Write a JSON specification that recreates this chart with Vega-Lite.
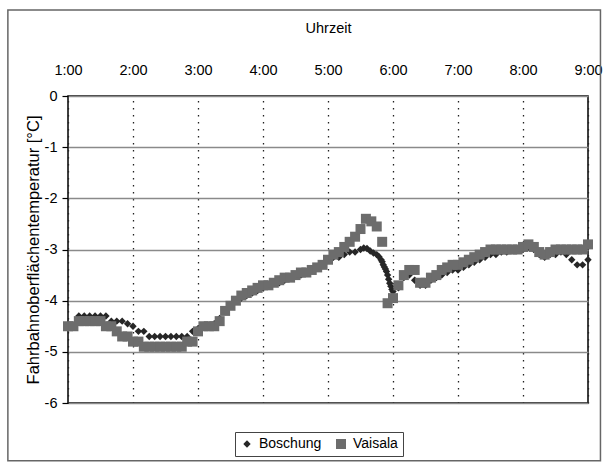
{
  "$schema": "https://vega.github.io/schema/vega-lite/v6.json",
  "width": 520,
  "height": 307,
  "padding": {"left": 7, "top": 9, "right": 0, "bottom": 0},
  "background": "#ffffff",
  "config": {
    "font": "Liberation Sans",
    "view": {"stroke": "#000000", "strokeWidth": 1.5},
    "axis": {"labelColor": "#000000", "titleColor": "#000000", "titleFontWeight": "normal", "labelFont": "Liberation Sans", "titleFont": "Liberation Sans"}
  },
  "layer": [
    {
      "data": {"values": [{}]},
      "mark": {"type": "rect", "clip": false, "fill": null, "filled": false, "stroke": "#666666", "strokeWidth": 1.5},
      "encoding": {
        "x": {"datum": 4.5, "type": "quantitative"},
        "x2": {"datum": 551.5},
        "y": {"datum": 1.68, "type": "quantitative"},
        "y2": {"datum": -7.13}
      }
    },
    {
      "data": {
        "values": [
          {"s":"Boschung","m":60,"t":-4.5},{"s":"Boschung","m":65,"t":-4.5},{"s":"Boschung","m":70,"t":-4.3},{"s":"Boschung","m":75,"t":-4.3},
          {"s":"Boschung","m":80,"t":-4.3},{"s":"Boschung","m":85,"t":-4.3},{"s":"Boschung","m":90,"t":-4.3},{"s":"Boschung","m":95,"t":-4.3},
          {"s":"Boschung","m":100,"t":-4.4},{"s":"Boschung","m":105,"t":-4.4},{"s":"Boschung","m":110,"t":-4.4},{"s":"Boschung","m":115,"t":-4.45},
          {"s":"Boschung","m":120,"t":-4.5},{"s":"Boschung","m":125,"t":-4.6},{"s":"Boschung","m":130,"t":-4.6},{"s":"Boschung","m":135,"t":-4.7},
          {"s":"Boschung","m":140,"t":-4.7},{"s":"Boschung","m":145,"t":-4.7},{"s":"Boschung","m":150,"t":-4.7},{"s":"Boschung","m":155,"t":-4.7},
          {"s":"Boschung","m":160,"t":-4.7},{"s":"Boschung","m":165,"t":-4.7},{"s":"Boschung","m":170,"t":-4.7},{"s":"Boschung","m":175,"t":-4.6},
          {"s":"Boschung","m":180,"t":-4.55},{"s":"Boschung","m":185,"t":-4.5},{"s":"Boschung","m":190,"t":-4.5},{"s":"Boschung","m":195,"t":-4.45},
          {"s":"Boschung","m":200,"t":-4.35},{"s":"Boschung","m":205,"t":-4.2},{"s":"Boschung","m":210,"t":-4.1},{"s":"Boschung","m":215,"t":-4.0},
          {"s":"Boschung","m":220,"t":-3.95},{"s":"Boschung","m":225,"t":-3.9},{"s":"Boschung","m":230,"t":-3.85},{"s":"Boschung","m":235,"t":-3.8},
          {"s":"Boschung","m":240,"t":-3.75},{"s":"Boschung","m":245,"t":-3.7},{"s":"Boschung","m":250,"t":-3.65},{"s":"Boschung","m":255,"t":-3.65},
          {"s":"Boschung","m":260,"t":-3.6},{"s":"Boschung","m":265,"t":-3.55},{"s":"Boschung","m":270,"t":-3.5},{"s":"Boschung","m":275,"t":-3.5},
          {"s":"Boschung","m":280,"t":-3.45},{"s":"Boschung","m":285,"t":-3.4},{"s":"Boschung","m":290,"t":-3.35},{"s":"Boschung","m":295,"t":-3.3},
          {"s":"Boschung","m":300,"t":-3.2},{"s":"Boschung","m":305,"t":-3.15},{"s":"Boschung","m":310,"t":-3.15},{"s":"Boschung","m":315,"t":-3.1},
          {"s":"Boschung","m":320,"t":-3.05},{"s":"Boschung","m":325,"t":-3.05},{"s":"Boschung","m":330,"t":-3.0},{"s":"Boschung","m":333,"t":-2.97},
          {"s":"Boschung","m":336,"t":-2.98},{"s":"Boschung","m":339,"t":-3.03},{"s":"Boschung","m":342,"t":-3.07},{"s":"Boschung","m":345,"t":-3.1},
          {"s":"Boschung","m":347,"t":-3.14},{"s":"Boschung","m":349,"t":-3.2},{"s":"Boschung","m":350,"t":-3.24},{"s":"Boschung","m":351,"t":-3.3},
          {"s":"Boschung","m":352,"t":-3.34},{"s":"Boschung","m":353,"t":-3.38},{"s":"Boschung","m":354,"t":-3.43},{"s":"Boschung","m":355,"t":-3.5},
          {"s":"Boschung","m":356,"t":-3.58},{"s":"Boschung","m":357,"t":-3.66},{"s":"Boschung","m":358,"t":-3.72},{"s":"Boschung","m":359,"t":-3.78},
          {"s":"Boschung","m":360,"t":-3.82},{"s":"Boschung","m":365,"t":-3.75},{"s":"Boschung","m":370,"t":-3.55},{"s":"Boschung","m":375,"t":-3.5},
          {"s":"Boschung","m":380,"t":-3.6},{"s":"Boschung","m":385,"t":-3.7},{"s":"Boschung","m":390,"t":-3.7},{"s":"Boschung","m":395,"t":-3.6},
          {"s":"Boschung","m":400,"t":-3.55},{"s":"Boschung","m":405,"t":-3.5},{"s":"Boschung","m":410,"t":-3.45},{"s":"Boschung","m":415,"t":-3.4},
          {"s":"Boschung","m":420,"t":-3.4},{"s":"Boschung","m":425,"t":-3.35},{"s":"Boschung","m":430,"t":-3.3},{"s":"Boschung","m":435,"t":-3.25},
          {"s":"Boschung","m":440,"t":-3.2},{"s":"Boschung","m":445,"t":-3.15},{"s":"Boschung","m":450,"t":-3.1},{"s":"Boschung","m":455,"t":-3.1},
          {"s":"Boschung","m":460,"t":-3.05},{"s":"Boschung","m":465,"t":-3.05},{"s":"Boschung","m":470,"t":-3.0},{"s":"Boschung","m":475,"t":-3.0},
          {"s":"Boschung","m":480,"t":-3.0},{"s":"Boschung","m":485,"t":-2.95},{"s":"Boschung","m":490,"t":-3.0},{"s":"Boschung","m":495,"t":-3.1},
          {"s":"Boschung","m":500,"t":-3.15},{"s":"Boschung","m":505,"t":-3.1},{"s":"Boschung","m":510,"t":-3.1},{"s":"Boschung","m":515,"t":-3.05},
          {"s":"Boschung","m":520,"t":-3.1},{"s":"Boschung","m":525,"t":-3.2},{"s":"Boschung","m":530,"t":-3.3},{"s":"Boschung","m":535,"t":-3.3},
          {"s":"Boschung","m":540,"t":-3.2},
          {"s":"Vaisala","m":60,"t":-4.5},{"s":"Vaisala","m":65,"t":-4.5},{"s":"Vaisala","m":70,"t":-4.4},{"s":"Vaisala","m":75,"t":-4.4},
          {"s":"Vaisala","m":80,"t":-4.4},{"s":"Vaisala","m":85,"t":-4.4},{"s":"Vaisala","m":90,"t":-4.4},{"s":"Vaisala","m":95,"t":-4.5},
          {"s":"Vaisala","m":100,"t":-4.5},{"s":"Vaisala","m":105,"t":-4.6},{"s":"Vaisala","m":110,"t":-4.7},{"s":"Vaisala","m":115,"t":-4.7},
          {"s":"Vaisala","m":120,"t":-4.8},{"s":"Vaisala","m":125,"t":-4.8},{"s":"Vaisala","m":130,"t":-4.9},{"s":"Vaisala","m":135,"t":-4.9},
          {"s":"Vaisala","m":140,"t":-4.9},{"s":"Vaisala","m":145,"t":-4.9},{"s":"Vaisala","m":150,"t":-4.9},{"s":"Vaisala","m":155,"t":-4.9},
          {"s":"Vaisala","m":160,"t":-4.9},{"s":"Vaisala","m":165,"t":-4.9},{"s":"Vaisala","m":170,"t":-4.8},{"s":"Vaisala","m":175,"t":-4.8},
          {"s":"Vaisala","m":180,"t":-4.6},{"s":"Vaisala","m":185,"t":-4.5},{"s":"Vaisala","m":190,"t":-4.5},{"s":"Vaisala","m":195,"t":-4.5},
          {"s":"Vaisala","m":200,"t":-4.4},{"s":"Vaisala","m":205,"t":-4.2},{"s":"Vaisala","m":210,"t":-4.1},{"s":"Vaisala","m":215,"t":-4.0},
          {"s":"Vaisala","m":220,"t":-3.9},{"s":"Vaisala","m":225,"t":-3.85},{"s":"Vaisala","m":230,"t":-3.8},{"s":"Vaisala","m":235,"t":-3.75},
          {"s":"Vaisala","m":240,"t":-3.7},{"s":"Vaisala","m":245,"t":-3.7},{"s":"Vaisala","m":250,"t":-3.65},{"s":"Vaisala","m":255,"t":-3.6},
          {"s":"Vaisala","m":260,"t":-3.55},{"s":"Vaisala","m":265,"t":-3.55},{"s":"Vaisala","m":270,"t":-3.5},{"s":"Vaisala","m":275,"t":-3.45},
          {"s":"Vaisala","m":280,"t":-3.45},{"s":"Vaisala","m":285,"t":-3.4},{"s":"Vaisala","m":290,"t":-3.35},{"s":"Vaisala","m":295,"t":-3.3},
          {"s":"Vaisala","m":300,"t":-3.2},{"s":"Vaisala","m":305,"t":-3.1},{"s":"Vaisala","m":310,"t":-3.05},{"s":"Vaisala","m":315,"t":-2.95},
          {"s":"Vaisala","m":320,"t":-2.85},{"s":"Vaisala","m":325,"t":-2.75},{"s":"Vaisala","m":330,"t":-2.6},{"s":"Vaisala","m":335,"t":-2.4},
          {"s":"Vaisala","m":340,"t":-2.45},{"s":"Vaisala","m":345,"t":-2.55},{"s":"Vaisala","m":350,"t":-2.85},{"s":"Vaisala","m":355,"t":-4.05},
          {"s":"Vaisala","m":360,"t":-3.95},{"s":"Vaisala","m":365,"t":-3.7},{"s":"Vaisala","m":370,"t":-3.5},{"s":"Vaisala","m":375,"t":-3.4},
          {"s":"Vaisala","m":380,"t":-3.4},{"s":"Vaisala","m":385,"t":-3.65},{"s":"Vaisala","m":390,"t":-3.65},{"s":"Vaisala","m":395,"t":-3.55},
          {"s":"Vaisala","m":400,"t":-3.5},{"s":"Vaisala","m":405,"t":-3.4},{"s":"Vaisala","m":410,"t":-3.35},{"s":"Vaisala","m":415,"t":-3.3},
          {"s":"Vaisala","m":420,"t":-3.3},{"s":"Vaisala","m":425,"t":-3.25},{"s":"Vaisala","m":430,"t":-3.2},{"s":"Vaisala","m":435,"t":-3.15},
          {"s":"Vaisala","m":440,"t":-3.1},{"s":"Vaisala","m":445,"t":-3.05},{"s":"Vaisala","m":450,"t":-3.0},{"s":"Vaisala","m":455,"t":-3.0},
          {"s":"Vaisala","m":460,"t":-3.0},{"s":"Vaisala","m":465,"t":-3.0},{"s":"Vaisala","m":470,"t":-3.0},{"s":"Vaisala","m":475,"t":-3.0},
          {"s":"Vaisala","m":480,"t":-2.95},{"s":"Vaisala","m":485,"t":-2.9},{"s":"Vaisala","m":490,"t":-2.95},{"s":"Vaisala","m":495,"t":-3.05},
          {"s":"Vaisala","m":500,"t":-3.1},{"s":"Vaisala","m":505,"t":-3.05},{"s":"Vaisala","m":510,"t":-3.0},{"s":"Vaisala","m":515,"t":-3.0},
          {"s":"Vaisala","m":520,"t":-3.0},{"s":"Vaisala","m":525,"t":-3.0},{"s":"Vaisala","m":530,"t":-3.0},{"s":"Vaisala","m":535,"t":-3.0},
          {"s":"Vaisala","m":540,"t":-2.9}
        ]
      },
      "mark": {"type": "point", "filled": true, "opacity": 1, "strokeWidth": 0, "clip": false},
      "encoding": {
        "x": {
          "field": "m", "type": "quantitative",
          "scale": {"domain": [60, 540], "nice": false, "zero": false},
          "axis": {
            "orient": "top", "title": "Uhrzeit", "titleFontSize": 14.5, "titlePadding": 27,
            "values": [60, 120, 180, 240, 300, 360, 420, 480, 540],
            "labelExpr": "floor(datum.value / 60) + ':00'",
            "labelFontSize": 14.5, "labelPadding": 19, "labelFlush": false,
            "ticks": false, "domain": false,
            "grid": true, "gridColor": "#222222", "gridDash": [1.5, 5.5], "gridWidth": 1.3
          }
        },
        "y": {
          "field": "t", "type": "quantitative",
          "scale": {"domain": [-6, 0], "nice": false, "zero": false},
          "axis": {
            "title": "Fahrbahnoberflächentemperatur [°C]", "titleFontSize": 16.5, "titlePadding": 3,
            "values": [-6, -5, -4, -3, -2, -1, 0],
            "labelExpr": "datum.value == 0 ? '0' : '-' + abs(datum.value)",
            "labelFontSize": 14.5, "labelPadding": 5,
            "tickSize": 6, "tickColor": "#000000", "tickWidth": 1.2,
            "domain": false,
            "grid": true, "gridColor": "#8a8a8a", "gridWidth": 1.3
          }
        },
        "color": {
          "field": "s", "type": "nominal",
          "scale": {"domain": ["Boschung", "Vaisala"], "range": ["#262626", "#6c6c6c"]},
          "legend": {
            "title": null, "orient": "none", "direction": "horizontal",
            "legendX": 167, "legendY": 336,
            "strokeColor": "#444444", "fillColor": "#ffffff", "padding": 5,
            "labelFontSize": 14, "labelFont": "Liberation Sans", "labelColor": "#000000",
            "symbolSize": 90, "columnPadding": 12, "labelOffset": 5, "symbolStrokeWidth": 0
          }
        },
        "shape": {
          "field": "s", "type": "nominal",
          "scale": {"domain": ["Boschung", "Vaisala"], "range": ["diamond", "square"]}
        },
        "size": {
          "field": "s", "type": "nominal",
          "scale": {"domain": ["Boschung", "Vaisala"], "range": [55, 100]},
          "legend": null
        }
      }
    }
  ]
}
